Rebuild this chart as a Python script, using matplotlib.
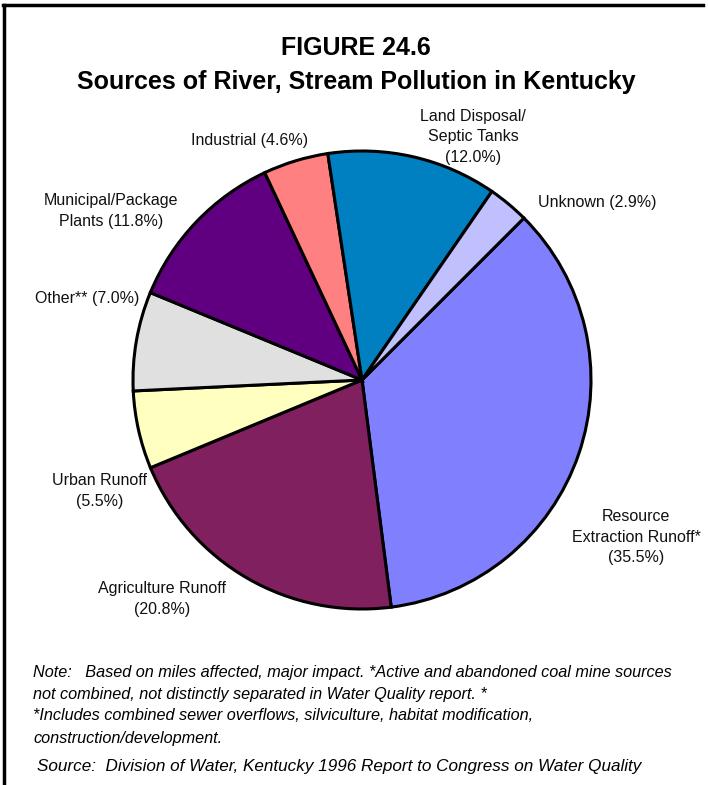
import matplotlib
matplotlib.use("Agg")
import matplotlib.pyplot as plt
from matplotlib.lines import Line2D

plt.rcParams['font.family'] = ['Liberation Sans', 'DejaVu Sans']

# Pollution sources, clockwise from the upper right
sources = ["Resource\nExtraction Runoff*", "Agriculture Runoff", "Urban Runoff",
           "Other**", "Municipal/Package\nPlants", "Industrial",
           "Land Disposal/\nSeptic Tanks", "Unknown"]
shares = [35.5, 20.8, 5.5, 7.0, 11.8, 4.6, 12.0, 2.9]
colors = ["#8080FF", "#80205F", "#FFFFC0", "#E0E0E0", "#600080", "#FF8080",
          "#0080C0", "#C0C0FF"]

label_text = {
    "Resource\nExtraction Runoff*": "Resource\nExtraction Runoff*\n(35.5%)",
    "Agriculture Runoff": "Agriculture Runoff\n(20.8%)",
    "Urban Runoff": "Urban Runoff\n(5.5%)",
    "Other**": "Other** (7.0%)",
    "Municipal/Package\nPlants": "Municipal/Package\nPlants (11.8%)",
    "Industrial": "Industrial (4.6%)",
    "Land Disposal/\nSeptic Tanks": "Land Disposal/\nSeptic Tanks\n(12.0%)",
    "Unknown": "Unknown (2.9%)",
}

W, H = 708, 785
fig = plt.figure(figsize=(W / 100, H / 100), dpi=100)
ax = fig.add_axes([0, 0, 1, 1])

cx, cy, r = 362, H - 380, 229
ax.pie(shares, colors=colors, startangle=45, counterclock=False,
       center=(cx, cy), radius=r, frame=True,
       wedgeprops=dict(edgecolor="black", linewidth=2.2))
ax.set_xlim(0, W)
ax.set_ylim(0, H)
ax.set_aspect("equal")
ax.axis("off")

# label anchor positions (pixels from top-left) and alignment
label_pos = {
    "Resource\nExtraction Runoff*": (636, 537, "center"),
    "Agriculture Runoff": (162, 599, "center"),
    "Urban Runoff": (100, 491, "center"),
    "Other**": (87, 298, "center"),
    "Municipal/Package\nPlants": (111, 211, "center"),
    "Industrial": (250, 140, "center"),
    "Land Disposal/\nSeptic Tanks": (473, 137, "center"),
    "Unknown": (538, 203, "left"),
}
for name in sources:
    px, py, ha = label_pos[name]
    ax.text(px, H - py, label_text[name], ha=ha, va="center",
            fontsize=11.5, linespacing=1.42, color="#111111")

ax.text(W / 2 + 2, H - 48, "FIGURE 24.6", ha="center", va="center",
        fontsize=18, fontweight="bold")
ax.text(W / 2 + 2, H - 82, "Sources of River, Stream Pollution in Kentucky",
        ha="center", va="center", fontsize=18, fontweight="bold")

notes = ["Note:   Based on miles affected, major impact. *Active and abandoned coal mine sources",
         "not combined, not distinctly separated in Water Quality report. *",
         "*Includes combined sewer overflows, silviculture, habitat modification,",
         "construction/development."]
for i, line in enumerate(notes):
    ax.text(33, H - (672 + 22 * i), line, ha="left", va="center",
            fontsize=11.7, style="italic")
ax.text(37, H - 766,
        "Source:  Division of Water, Kentucky 1996 Report to Congress on Water Quality",
        ha="left", va="center", fontsize=12.3, style="italic")

# frame along the top and left edges
fig.add_artist(Line2D([3 / W, 703 / W], [1 - 5 / H, 1 - 5 / H],
                      color="black", linewidth=2.5, transform=fig.transFigure))
fig.add_artist(Line2D([4 / W, 4 / W], [0, 1 - 5 / H],
                      color="black", linewidth=2.5, transform=fig.transFigure))

fig.savefig("out.png", dpi=100, facecolor="white")
